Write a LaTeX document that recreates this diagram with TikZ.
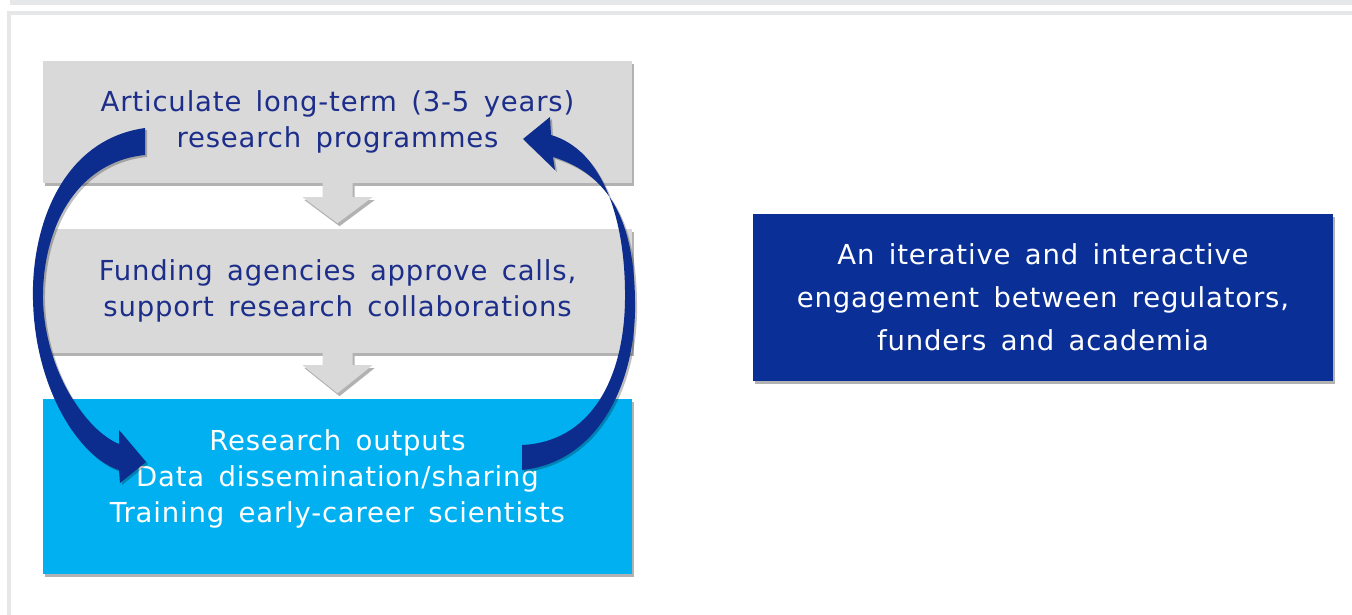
\documentclass[tikz,border=0pt]{standalone}
\usepackage{fontspec}
\setmainfont[LetterSpace=3,WordSpace=1.5]{DejaVu Sans}
\usetikzlibrary{shadows,calc}
\definecolor{boxgray}{RGB}{217,217,217}
\definecolor{navytext}{RGB}{28,46,138}
\definecolor{cyanbox}{RGB}{0,176,240}
\definecolor{darkbox}{RGB}{10,48,152}
\definecolor{arrowblue}{RGB}{12,45,142}
\definecolor{framegray}{RGB}{230,231,233}
\begin{document}
\begin{tikzpicture}[x=1pt,y=-1pt,
  shad/.style={drop shadow={shadow xshift=2pt,shadow yshift=-3pt,opacity=0.3,fill=black}},
  stepbox/.style={rectangle,minimum width=589pt,inner sep=0pt,align=center,
    font=\fontsize{27.5}{36}\selectfont,shad},
  grayarrow/.style={fill=boxgray,shad},
  loopArrow/.style={fill=arrowblue,drop shadow={shadow xshift=2pt,shadow yshift=-2pt,opacity=0.25,fill=black}}
]
\useasboundingbox (0,0) rectangle (1352,615);
\fill[white] (0,0) rectangle (1352,615);
% frame
\fill[framegray] (10,0) rectangle (1352,5);
\draw[framegray,line width=4pt] (9,615) -- (9,13.5) -- (1352,13.5);

% boxes
\node[stepbox,fill=boxgray,minimum height=122pt,text=navytext] (b1) at (337.5,122)
  {Articulate long-term (3-5 years)\\research programmes};
\node[stepbox,fill=boxgray,minimum height=124pt,text=navytext] (b2) at (337.5,291)
  {Funding agencies approve calls,\\support research collaborations};
\node[stepbox,fill=cyanbox,minimum height=175pt] (b3) at (337.5,486.5) {};
\node[align=center,text=white,font=\fontsize{27.5}{36}\selectfont] (b3t) at ($(b3.center)+(0,-8)$)
  {Research outputs\\Data dissemination/sharing\\Training early-career scientists};

% gray down arrows
\fill[grayarrow] (b1.south) ++(-15,0) -- ++(0,14) -- ++(-20,0) -- ++(35,26) -- ++(35,-26) -- ++(-20,0) -- ++(0,-14) -- cycle;
\fill[grayarrow] (b2.south) ++(-15,0) -- ++(0,12) -- ++(-20,0) -- ++(35,28) -- ++(35,-28) -- ++(-20,0) -- ++(0,-12) -- cycle;

% right box
\node[rectangle,fill=darkbox,minimum width=580pt,minimum height=167pt,inner sep=0pt,
  align=center,text=white,font=\fontsize{27.5}{43}\selectfont,shad] (rb) at (1043,297.5)
  {An iterative and interactive\\engagement between regulators,\\funders and academia};

% left loop arrow (from b1 down to b3)
\fill[loopArrow] (145,128) .. controls (60,140) and (31,230) .. (33,300)
  .. controls (35,390) and (80,458) .. (119,470)
  -- (120,483) -- (146,462) -- (119,430) -- (119,444)
  .. controls (85,430) and (45,370) .. (43,300)
  .. controls (42,230) and (75,162) .. (145,155) -- cycle;

% right loop arrow (from b3 up to b1)
\fill[loopArrow] (522,470) .. controls (600,462) and (637,380) .. (635,300)
  .. controls (634,225) and (612,175) .. (553,157)
  -- (555,170) -- (523,139) -- (550,117) -- (551,135)
  .. controls (603,150) and (626,220) .. (625,300)
  .. controls (624,380) and (590,442) .. (522,445) -- cycle;
\end{tikzpicture}
\end{document}
